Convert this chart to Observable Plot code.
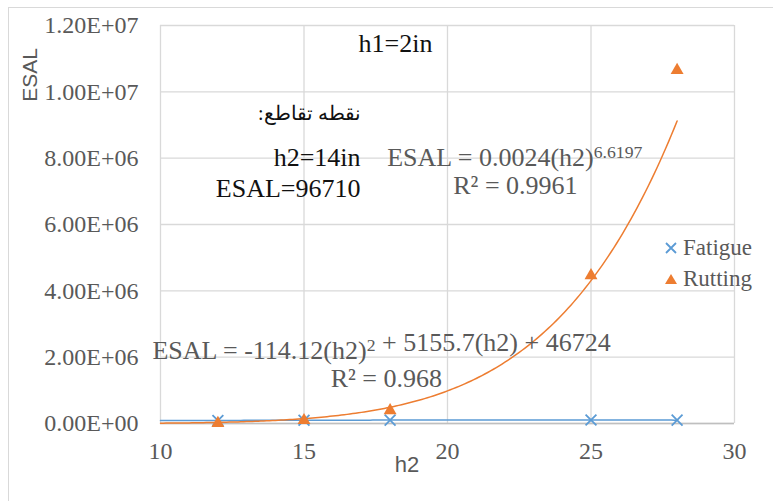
<!DOCTYPE html>
<html><head><meta charset="utf-8">
<script src="https://cdn.jsdelivr.net/npm/d3@7"></script>
<script src="https://cdn.jsdelivr.net/npm/@observablehq/plot@0.6"></script>
<style>
body{margin:0;background:#fff;}
#wrap{position:relative;width:773px;height:501px;overflow:hidden;}
#frame{position:absolute;left:8px;top:7px;width:800px;height:520px;border:1px solid #d9d9d9;box-sizing:border-box;}
#chart{position:absolute;left:0;top:0;}
#legend{position:absolute;left:664px;top:232px;font-family:"Liberation Serif","Times New Roman",serif;font-size:23px;color:#595959;line-height:31px;}
#legend div{display:flex;align-items:center;}
#legend svg{margin-right:5px;}
.axt{position:absolute;font-family:"Liberation Sans",Arial,sans-serif;color:#595959;white-space:nowrap;line-height:1;}
#ylab{left:29px;top:75px;font-size:21px;transform:translate(-50%,-50%) rotate(-90deg);}
#xlab{left:407px;top:465px;font-size:22px;transform:translate(-50%,-50%);}
</style></head>
<body>
<div id="wrap"><div id="frame"></div><div id="chart"></div>
<div id="ylab" class="axt">ESAL</div>
<div id="xlab" class="axt">h2</div>
<div id="legend">
<div><svg width="14" height="14"><path d="M2,2L12,12M12,2L2,12" stroke="#5B9BD5" stroke-width="1.8"/></svg>Fatigue</div>
<div><svg width="14" height="14"><path d="M7,2L13,12L1,12Z" fill="#ED7D31"/></svg>Rutting</div>
</div></div>
<script>
const hValues = [12, 15, 18, 25, 28];
const fatigue = [92000, 98000, 102000, 104000, 101000];
const rutting = [10000, 95000, 390000, 4460000, 10650000];
const seriesNames = ["Fatigue", "Rutting"];
const powerCoef = [0.0024, 6.6197];          // ESAL = a*h2^b
const polyCoef = [-114.12, 5155.7, 46724];   // ESAL = a*h2^2 + b*h2 + c
const trendRange = [10, 28];
const xTicks = [10, 15, 20, 25, 30];
const yTicks = [0, 2e6, 4e6, 6e6, 8e6, 1e7, 1.2e7];
const annotations = [
  {x: 16.9, y: 1.145e7, text: "h1=2in", anchor: "start", color: "#111", size: 26},
  {x: 16.97, y: 9.35e6, text: "نقطه تقاطع:\u200F", anchor: "end", color: "#111", size: 20},
  {x: 16.97, y: 8.02e6, text: "h2=14in", anchor: "end", color: "#111", size: 26},
  {x: 16.97, y: 7.09e6, text: "ESAL=96710", anchor: "end", color: "#111", size: 26},
  {x: 17.9, y: 8.02e6, text: "ESAL = 0.0024(h2)^{6.6197}", anchor: "start", color: "#595959", size: 26},
  {x: 20.2, y: 7.18e6, text: "R² = 0.9961", anchor: "start", color: "#595959", size: 26},
  {x: 9.72, y: 2.2e6, text: "ESAL = -114.12(h2)^{2} + 5155.7(h2) + 46724", anchor: "start", color: "#595959", size: 26},
  {x: 15.93, y: 1.36e6, text: "R² = 0.968", anchor: "start", color: "#595959", size: 26}
];

const points = hValues.flatMap((h, i) => [
  {h, v: fatigue[i], s: seriesNames[0]},
  {h, v: rutting[i], s: seriesNames[1]}
]);
const xs = d3.range(trendRange[0], trendRange[1] + 1e-9, 0.1);
const powerLine = xs.map(h => ({h, v: powerCoef[0] * Math.pow(h, powerCoef[1])}));
const polyLine = xs.map(h => ({h, v: polyCoef[0]*h*h + polyCoef[1]*h + polyCoef[2]}));

const fmt = v => {
  const [m, e] = v.toExponential(2).split("e");
  const n = +e;
  return m + "E" + (n < 0 ? "-" : "+") + String(Math.abs(n)).padStart(2, "0");
};
const serif = "'Liberation Serif','Times New Roman',serif";
const annOpts = {x: "x", y: "y", text: "text", fill: "color", fontSize: "size", lineAnchor: "middle"};

const chart = Plot.plot({
  width: 773, height: 501,
  marginLeft: 160, marginRight: 39, marginTop: 25, marginBottom: 78,
  style: {fontFamily: serif, background: "transparent"},
  x: {domain: [10, 30]},
  y: {domain: [0, 1.2e7]},
  marks: [
    Plot.ruleY(yTicks, {stroke: "#d9d9d9", strokeWidth: 1.3}),
    Plot.ruleX(xTicks, {stroke: "#d9d9d9", strokeWidth: 1.3}),
    Plot.ruleY([0], {stroke: "#bfbfbf", strokeWidth: 1.5}),
    Plot.axisY({ticks: yTicks, tickFormat: fmt, tickSize: 0, tickPadding: 22, fontSize: 24, color: "#595959", label: null}),
    Plot.axisX({ticks: xTicks, tickSize: 0, tickPadding: 18, fontSize: 24, color: "#595959", label: null}),
    Plot.line(polyLine, {x: "h", y: "v", stroke: "#5B9BD5", strokeWidth: 1.5}),
    Plot.line(powerLine, {x: "h", y: "v", stroke: "#ED7D31", strokeWidth: 1.5}),
    Plot.dot(points.filter(d => d.s === "Fatigue"), {x: "h", y: "v", symbol: "times", r: 5, stroke: "#5B9BD5", strokeWidth: 1.8}),
    Plot.dot(points.filter(d => d.s === "Rutting"), {x: "h", y: "v", symbol: "triangle", r: 4.8, fill: "#ED7D31", stroke: "none"}),
    Plot.text(annotations.filter(d => d.anchor === "start"), {...annOpts, textAnchor: "start"}),
    Plot.text(annotations.filter(d => d.anchor === "end"), {...annOpts, textAnchor: "end"})
  ]
});
document.getElementById("chart").appendChild(chart);

// render ^{...} as superscripts
d3.select(chart).selectAll("text").each(function() {
  const t = this.textContent;
  if (!t.includes("^{")) return;
  const parts = t.split(/(\^\{[^}]*\})/);
  this.textContent = "";
  const sel = d3.select(this);
  parts.forEach(p => {
    if (!p) return;
    if (p.startsWith("^{")) {
      sel.append("tspan").attr("dy", "-0.42em").attr("font-size", "0.68em").text(p.slice(2, -1));
      sel.append("tspan").attr("dy", "0.29em").text("");
    } else {
      sel.append("tspan").text(p);
    }
  });
});
</script>
</body></html>
